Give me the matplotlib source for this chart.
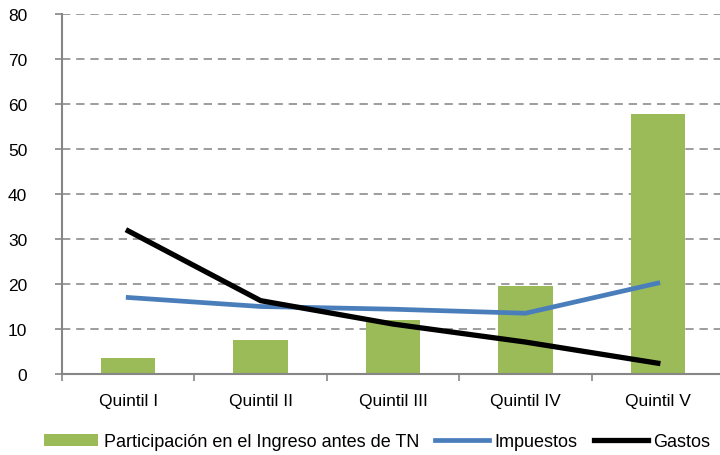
import numpy as np
import matplotlib
matplotlib.use("Agg")
import matplotlib.pyplot as plt

plt.rcParams['font.family'] = ['Liberation Sans', 'DejaVu Sans']

# data
quintiles = ['Quintil I', 'Quintil II', 'Quintil III', 'Quintil IV', 'Quintil V']
participacion = [3.5, 7.5, 12.0, 19.5, 57.7]
impuestos = [17.0, 15.0, 14.4, 13.5, 20.2]
gastos = [31.8, 16.3, 11.1, 7.1, 2.4]

fig = plt.figure(figsize=(7.2, 4.56), dpi=100)
ax = fig.add_axes([62 / 720, 1 - 375 / 456, 662 / 720, 360 / 456])

x = np.arange(len(quintiles))
ax.bar(x, participacion, width=0.41, color='#9BBB59', zorder=2,
       label='Participación en el Ingreso antes de TN')
ax.plot(x, impuestos, color='#4A7EBB', lw=3.4, zorder=3, label='Impuestos')
ax.plot(x, gastos, color='black', lw=3.8, zorder=4, label='Gastos')

ax.set_xlim(-0.5, 4.5)
ax.set_ylim(0, 80)
ax.set_yticks(range(0, 81, 10))
ax.set_xticks(x)
ax.set_xticklabels(quintiles, fontsize=12.5)
ax.set_xticks(np.arange(-0.5, 5.0, 1.0), minor=True)
ax.tick_params(axis='x', which='major', length=0, pad=14)
ax.tick_params(axis='x', which='minor', length=5, width=1.2, color='#868686')
ax.tick_params(axis='y', length=5, width=1.2, color='#868686', labelsize=12.5, pad=20)

ax.yaxis.grid(True, color='#8c8c8c', linestyle=(0, (5, 3.5)), lw=1.2, zorder=1)
for s in ['top', 'right']:
    ax.spines[s].set_visible(False)
for s in ['left', 'bottom']:
    ax.spines[s].set_color('#868686')
    ax.spines[s].set_linewidth(1.5)

handles, labels = ax.get_legend_handles_labels()
order = [2, 0, 1]
fig.legend([handles[i] for i in order], [labels[i] for i in order],
           loc='center', bbox_to_anchor=(0.524, 1 - 443 / 456), ncol=3, frameon=False,
           fontsize=13, handlelength=3.0, handleheight=0.6, columnspacing=0.9,
           handletextpad=0.3, borderpad=0)

fig.savefig('out.png', dpi=100)
